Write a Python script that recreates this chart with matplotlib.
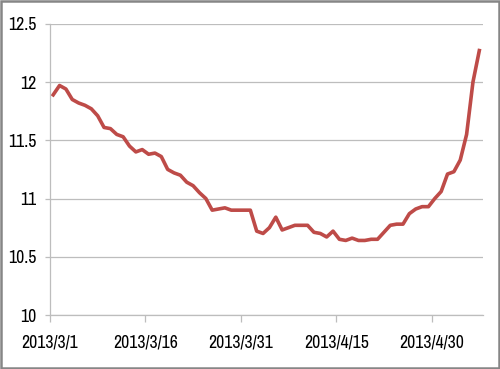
import matplotlib
matplotlib.use("Agg")
import matplotlib.pyplot as plt
from matplotlib import font_manager
from matplotlib.patches import Rectangle
import pandas as pd

names = sorted({f.name for f in font_manager.fontManager.ttflist})
narrow = [n for n in names if "Narrow" in n or "Condensed" in n]
fam = (narrow[:1] if narrow else []) + ['DejaVu Sans']
plt.rcParams['font.family'] = fam

start_date = "2013-03-01"
values = [11.89, 11.97, 11.94, 11.85, 11.82, 11.80, 11.77, 11.71, 11.61, 11.60,
          11.55, 11.53, 11.45, 11.40, 11.42, 11.38, 11.39, 11.36, 11.25, 11.22,
          11.20, 11.14, 11.11, 11.05, 11.00, 10.90, 10.91, 10.92, 10.90, 10.90,
          10.90, 10.90, 10.72, 10.70, 10.75, 10.84, 10.73, 10.75, 10.77, 10.77,
          10.77, 10.71, 10.70, 10.67, 10.72, 10.65, 10.64, 10.66, 10.64, 10.64,
          10.65, 10.65, 10.71, 10.77, 10.78, 10.78, 10.87, 10.91, 10.93, 10.93,
          11.00, 11.06, 11.21, 11.23, 11.33, 11.55, 12.00, 12.27]
tick_dates = ["2013-03-01", "2013-03-16", "2013-03-31", "2013-04-15", "2013-04-30"]
y_ticks = [10, 10.5, 11, 11.5, 12, 12.5]
y_labels = ["10", "10.5", "11", "11.5", "12", "12.5"]

dates = pd.date_range(start_date, periods=len(values), freq="D")
xpos = dates + pd.Timedelta(hours=12)

fig = plt.figure(figsize=(5, 3.69), dpi=100)
ax = fig.add_axes([0.10, 0.1463, 0.865, 0.7893])

ax.plot(xpos, values, color="#BE4B48", linewidth=2.6, solid_joinstyle="round")

ax.set_xlim(dates[0], dates[-1] + pd.Timedelta(days=1))
ax.set_ylim(10, 12.5)
ax.set_yticks(y_ticks)
ax.set_yticklabels(y_labels)
td = pd.to_datetime(tick_dates)
ax.set_xticks(td)
ax.set_xticklabels([f"{d.year}/{d.month}/{d.day}" for d in td])

ax.grid(axis="y", color="#BDBDBD", linewidth=0.9)
ax.set_axisbelow(True)
for s in ["top", "right"]:
    ax.spines[s].set_visible(False)
for s in ["left", "bottom"]:
    ax.spines[s].set_color("#BDBDBD")
    ax.spines[s].set_linewidth(0.9)
ax.tick_params(axis="y", length=3.5, color="#BDBDBD", width=0.9, labelsize=12.8, pad=6,
               labelcolor="#000000")
ax.tick_params(axis="x", length=5, color="#BDBDBD", width=0.9, labelsize=12.8, pad=9,
               labelcolor="#000000")

fig.patches.append(Rectangle((0.002, 0.003), 0.996, 0.994, transform=fig.transFigure,
                             fill=False, edgecolor="#868686", linewidth=1.8))

fig.savefig("out.png", dpi=100)
